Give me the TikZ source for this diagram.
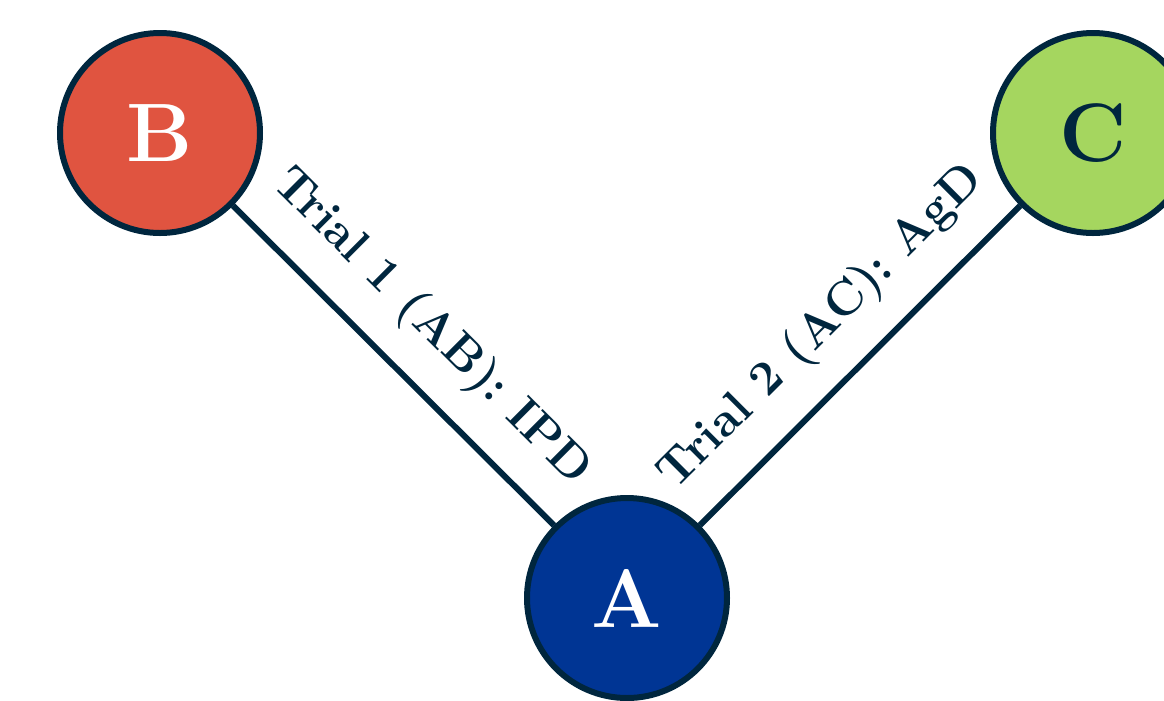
\documentclass[tikz,border=0pt]{standalone}
\definecolor{navy}{HTML}{00263E}
\definecolor{nodeRed}{HTML}{E05440}
\definecolor{nodeGreen}{HTML}{A5D65F}
\definecolor{nodeBlue}{HTML}{003594}
\begin{document}
\begin{tikzpicture}[x=0.3pt,y=-0.3pt,
  agent/.style={circle, draw=navy, line width=1.8pt, minimum size=60pt,
    inner sep=0pt, font=\Huge\bfseries},
  trial/.style={line width=1.8pt, draw=navy},
  triallabel/.style={midway, sloped, anchor=south, inner xsep=0pt,
    inner ysep=8pt, font=\Large\bfseries, text=navy}]
\useasboundingbox (0,0) rectangle (1164,700);
% three agents
\node[agent, fill=nodeBlue, text=white] (A) at (627,598) {A};
\node[agent, fill=nodeRed, text=white] (B) at (160,133) {B};
\node[agent, fill=nodeGreen, text=navy] (C) at (1093,133) {C};
% trials between them
\draw[trial] (B) -- (A) node[triallabel] {Trial 1 (AB): IPD};
\draw[trial] (A) -- (C) node[triallabel] {Trial 2 (AC): AgD};
\end{tikzpicture}
\end{document}
